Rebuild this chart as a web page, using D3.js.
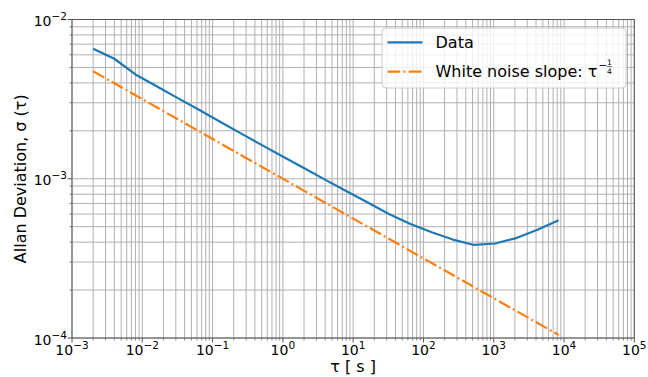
<!DOCTYPE html>
<html><head><meta charset="utf-8">
<script src="https://cdn.jsdelivr.net/npm/d3@7"></script>
<style>body{margin:0;background:#fff}svg{display:block;font-family:"DejaVu Sans",sans-serif}</style>
</head><body>
<svg id="c" width="648" height="377"></svg>
<script>
const taus = [0.002,0.004,0.008,0.016,0.032,0.064,0.128,0.256,0.512,1.024,2.048,4.096,8.192,16.384,32.768,65.536,131.072,262.144,524.288,1048.576,2097.152,4194.304,8388.608];
const adev = [6.55e-3,5.67e-3,4.52e-3,3.81e-3,3.21e-3,2.71e-3,2.28e-3,1.92e-3,1.62e-3,1.37e-3,1.16e-3,9.8e-4,8.31e-4,7.06e-4,5.99e-4,5.20e-4,4.61e-4,4.15e-4,3.84e-4,3.92e-4,4.24e-4,4.79e-4,5.49e-4];
const white = [4.729e-3,3.976e-3,3.344e-3,2.812e-3,2.364e-3,1.988e-3,1.672e-3,1.406e-3,1.182e-3,9.94e-4,8.36e-4,7.03e-4,5.91e-4,4.97e-4,4.18e-4,3.51e-4,2.955e-4,2.485e-4,2.09e-4,1.757e-4,1.478e-4,1.243e-4,1.045e-4];
const xTickExps = [-3,-2,-1,0,1,2,3,4,5];
const yTickExps = [-4,-3,-2];
const xLabel = "τ [ s ]";
const yLabel = "Allan Deviation, σ (τ)";
const legendLabels = ["Data", "White noise slope: τ"];

const L=72, R=634.3, T=19.5, B=338;
const svg = d3.select("#c");
const x = d3.scaleLog().domain([1e-3,1e5]).range([L,R]);
const y = d3.scaleLog().domain([1e-4,1e-2]).range([B,T]);

// grid (major + minor)
const xt = [], yt = [];
for (let e=-3;e<5;e++) for (let m=1;m<10;m++) xt.push(m*Math.pow(10,e));
xt.push(1e5);
for (let e=-4;e<-2;e++) for (let m=1;m<10;m++) yt.push(m*Math.pow(10,e));
yt.push(1e-2);
const g = svg.append("g");
g.selectAll(".gx").data(xt).join("line").attr("x1",d=>x(d)).attr("x2",d=>x(d)).attr("y1",T).attr("y2",B)
 .attr("stroke","#b0b0b0").attr("stroke-width",1);
g.selectAll(".gy").data(yt).join("line").attr("y1",d=>y(d)).attr("y2",d=>y(d)).attr("x1",L).attr("x2",R)
 .attr("stroke","#b0b0b0").attr("stroke-width",1);

// lines
const line = (vals)=>d3.line().x((d,i)=>x(taus[i])).y(d=>y(d))(vals);
svg.append("path").attr("d",line(adev)).attr("fill","none").attr("stroke","#1f77b4").attr("stroke-width",2.2).attr("stroke-linejoin","round");
svg.append("path").attr("d",line(white)).attr("fill","none").attr("stroke","#ff7f0e").attr("stroke-width",2.2)
 .attr("stroke-dasharray","12.8,3.2,2,3.2");

// frame
svg.append("rect").attr("x",L).attr("y",T).attr("width",R-L).attr("height",B-T).attr("fill","none").attr("stroke","#555").attr("stroke-width",1);

// ticks
const tk = svg.append("g").attr("stroke","#555");
xt.forEach(d=>{const maj = Math.abs(Math.log10(d)-Math.round(Math.log10(d)))<1e-9;
  tk.append("line").attr("x1",x(d)).attr("x2",x(d)).attr("y1",B).attr("y2",B+(maj?4.5:2.5)).attr("stroke-width",maj?1:0.7);});
yt.forEach(d=>{const maj = Math.abs(Math.log10(d)-Math.round(Math.log10(d)))<1e-9;
  tk.append("line").attr("y1",y(d)).attr("y2",y(d)).attr("x1",L).attr("x2",L-(maj?4.5:2.5)).attr("stroke-width",maj?1:0.7);});

function sup(sel, e){
  sel.append("tspan").text("10");
  sel.append("tspan").attr("font-size",10.5).attr("dy",-5.8).text(e<0?"−"+(-e):String(e));
}
xTickExps.forEach(e=>{
  const t = svg.append("text").attr("x",x(Math.pow(10,e))).attr("y",354.5).attr("text-anchor","middle").attr("font-size",14).attr("fill","#000");
  sup(t,e);
});
yTickExps.forEach(e=>{
  const t = svg.append("text").attr("x",67).attr("y",y(Math.pow(10,e))+6.5).attr("text-anchor","end").attr("font-size",14).attr("fill","#000");
  sup(t,e);
});

// axis labels
svg.append("text").attr("x",(L+R)/2).attr("y",371.5).attr("text-anchor","middle").attr("font-size",16).text(xLabel);
svg.append("text").attr("transform",`translate(25.5,${(T+B)/2}) rotate(-90)`).attr("text-anchor","middle").attr("font-size",16).text(yLabel);

// legend
const lg = svg.append("g");
lg.append("rect").attr("x",382).attr("y",28).attr("width",244).attr("height",60).attr("rx",4)
  .attr("fill","#fff").attr("fill-opacity",0.8).attr("stroke","#ccc").attr("stroke-width",1);
lg.append("line").attr("x1",387.5).attr("x2",422.5).attr("y1",42.3).attr("y2",42.3).attr("stroke","#1f77b4").attr("stroke-width",2.2);
lg.append("line").attr("x1",387.5).attr("x2",422.5).attr("y1",71.7).attr("y2",71.7).attr("stroke","#ff7f0e").attr("stroke-width",2.2).attr("stroke-dasharray","12.8,3.2,2,3.2");
lg.append("text").attr("x",435.5).attr("y",47.8).attr("font-size",16).text(legendLabels[0]);
const t2 = lg.append("text").attr("x",435.5).attr("y",77.3).attr("font-size",16).text(legendLabels[1]);
const bb = t2.node().getBBox();
const sx = bb.x+bb.width+1;
lg.append("text").attr("x",sx).attr("y",69).attr("font-size",10.5).text("−");
lg.append("text").attr("x",sx+11).attr("y",64.5).attr("font-size",7.5).attr("text-anchor","middle").text("1");
lg.append("line").attr("x1",sx+8.5).attr("x2",sx+13.5).attr("y1",66.5).attr("y2",66.5).attr("stroke","#000").attr("stroke-width",0.6);
lg.append("text").attr("x",sx+11).attr("y",73.5).attr("font-size",7.5).attr("text-anchor","middle").text("4");
</script>
</body></html>
